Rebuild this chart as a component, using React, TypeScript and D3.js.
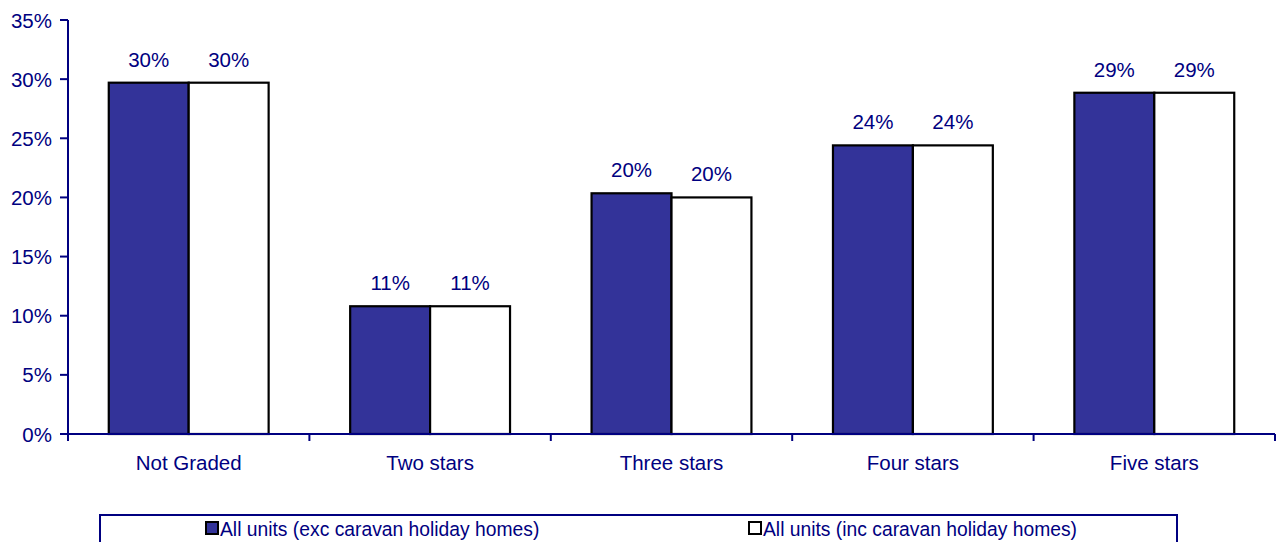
import React from "react";
import * as d3 from "d3";

const categories = ["Not Graded", "Two stars", "Three stars", "Four stars", "Five stars"];
const seriesNames = ["All units (exc caravan holiday homes)", "All units (inc caravan holiday homes)"];
const excValues = [29.7, 10.8, 20.35, 24.4, 28.85];
const incValues = [29.7, 10.8, 20.0, 24.4, 28.85];
const excLabels = ["30%", "11%", "20%", "24%", "29%"];
const incLabels = ["30%", "11%", "20%", "24%", "29%"];
const yTicks = [0, 5, 10, 15, 20, 25, 30, 35];

const W = 1276;
const H = 542;
const NAVY = "#000080";
const DARK = "#333399";
const FONT = "'Liberation Sans', Arial, sans-serif";
const FS = 20.5;
const LFS = 19.3;

export default function App() {
  const left = 68;
  const right = 1275;
  const top = 20;
  const bottom = 434;

  const y = d3.scaleLinear().domain([0, 35]).range([bottom, top]);
  const x0 = d3.scaleBand<string>().domain(categories).range([left, right]).paddingInner(0).paddingOuter(0);
  const x1 = d3.scaleBand<string>().domain(["exc", "inc"]).range([0, x0.bandwidth()]).paddingInner(0).paddingOuter(0.51);

  const series = [
    { key: "exc", values: excValues, labels: excLabels, fill: DARK },
    { key: "inc", values: incValues, labels: incLabels, fill: "#ffffff" },
  ];

  const catTicks = [...categories.map((c) => x0(c) as number), right];

  return (
    <svg width={W} height={H} style={{ position: "absolute", left: 0, top: 0 }} fontFamily={FONT}>
      <rect x={0} y={0} width={W} height={H} fill="#ffffff" />
      {series.map((s) =>
        categories.map((c, i) => {
          const bx = (x0(c) as number) + (x1(s.key) as number);
          const by = y(s.values[i]);
          return (
            <g key={s.key + c}>
              <rect
                x={bx}
                y={by}
                width={x1.bandwidth()}
                height={bottom - by}
                fill={s.fill}
                stroke="#000000"
                strokeWidth={2.2}
              />
              <text
                x={bx + x1.bandwidth() / 2}
                y={by - 16}
                textAnchor="middle"
                fontSize={FS}
                fill={NAVY}
              >
                {s.labels[i]}
              </text>
            </g>
          );
        })
      )}
      <line x1={left} x2={left} y1={top} y2={bottom} stroke={NAVY} strokeWidth={2} />
      {yTicks.map((t) => (
        <g key={"y" + t}>
          <line x1={left - 8} x2={left} y1={y(t)} y2={y(t)} stroke={NAVY} strokeWidth={2} />
          <text x={52} y={y(t) + 7.5} textAnchor="end" fontSize={FS} fill={NAVY}>
            {t + "%"}
          </text>
        </g>
      ))}
      <line x1={left - 8} x2={right} y1={bottom} y2={bottom} stroke={NAVY} strokeWidth={2} />
      {catTicks.map((tx, i) => (
        <line key={"xt" + i} x1={tx} x2={tx} y1={bottom} y2={bottom + 7} stroke={NAVY} strokeWidth={2} />
      ))}
      {categories.map((c) => (
        <text
          key={"xl" + c}
          x={(x0(c) as number) + x0.bandwidth() / 2}
          y={470}
          textAnchor="middle"
          fontSize={FS}
          fill={NAVY}
        >
          {c}
        </text>
      ))}
      <rect x={100} y={515} width={1077} height={40} fill="#ffffff" stroke={NAVY} strokeWidth={2} />
      <rect x={206} y={522} width={12} height={12} fill={DARK} stroke="#000000" strokeWidth={2} />
      <text x={220} y={536} fontSize={LFS} fill={NAVY}>
        {seriesNames[0]}
      </text>
      <rect x={749} y={522} width={12} height={12} fill="#ffffff" stroke="#000000" strokeWidth={2} />
      <text x={763} y={536} fontSize={LFS} fill={NAVY}>
        {seriesNames[1]}
      </text>
    </svg>
  );
}
